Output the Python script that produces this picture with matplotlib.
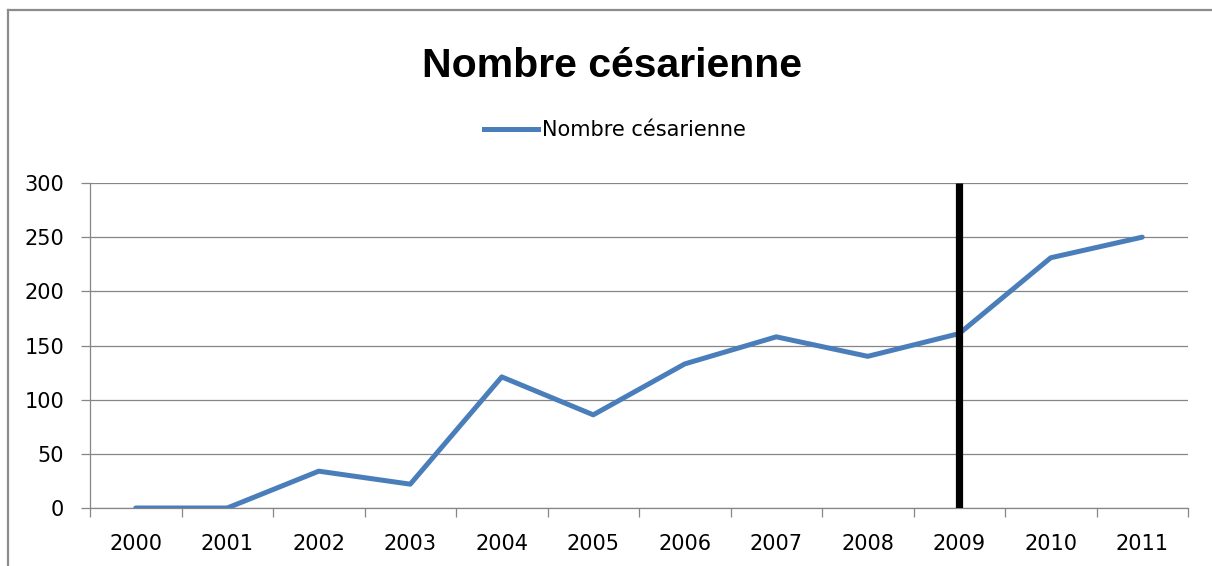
import matplotlib
matplotlib.use("Agg")
import matplotlib.pyplot as plt
from matplotlib import font_manager as fm
from matplotlib.lines import Line2D

years = ["2000", "2001", "2002", "2003", "2004", "2005",
         "2006", "2007", "2008", "2009", "2010", "2011"]
cesariennes = [0, 0, 34, 22, 121, 86, 133, 158, 140, 161, 231, 250]
marker_year = "2009"
title = "Nombre césarienne"
series_name = "Nombre césarienne"
yticks = [0, 50, 100, 150, 200, 250, 300]

names = {f.name for f in fm.fontManager.ttflist}
if "Liberation Sans Narrow" in names:
    title_font, title_size = "Liberation Sans Narrow", 36
else:
    title_font, title_size = "Liberation Sans", 29.5

W, H = 1212, 566
fig = plt.figure(figsize=(W / 100, H / 100), dpi=100)
fig.patch.set_facecolor("white")

ax = fig.add_axes([90 / W, 1 - 508 / H, (1188 - 90) / W, (508 - 183) / H])
x = list(range(len(years)))
ax.plot(x, cesariennes, color="#4A7EBB", lw=3.6, solid_joinstyle="round",
        solid_capstyle="round", label=series_name, zorder=3)
xi = years.index(marker_year)
ax.vlines(xi, 0, 300, color="black", lw=5.2, zorder=4)

ax.set_xlim(-0.5, len(years) - 0.5)
ax.set_ylim(0, 300)
ax.set_yticks(yticks)
ax.set_yticklabels([str(v) for v in yticks])
ax.set_xticks(x)
ax.set_xticklabels(years)
ax.set_xticks([i - 0.5 for i in range(len(years) + 1)], minor=True)
ax.tick_params(axis="x", which="major", length=0, pad=18.5, labelsize=15)
ax.tick_params(axis="x", which="minor", length=6.5, width=0.9, color="#868686", direction="out")
ax.tick_params(axis="y", length=6.5, width=0.9, color="#868686", pad=12, labelsize=15)
for lbl in ax.get_xticklabels() + ax.get_yticklabels():
    lbl.set_family("DejaVu Sans")
    lbl.set_color("black")

ax.grid(axis="y", color="#868686", lw=0.9)
ax.set_axisbelow(True)
for s in ["top", "right"]:
    ax.spines[s].set_visible(False)
for s in ["left", "bottom"]:
    ax.spines[s].set_color("#868686")
    ax.spines[s].set_linewidth(0.9)

fig.text(612 / W, 1 - 77 / H, title, ha="center", va="baseline",
         fontsize=title_size, fontweight="bold", family=title_font, color="black")

handles = [Line2D([], [], color="#4A7EBB", lw=3.6)]
fig.legend(handles, [series_name], loc="center", bbox_to_anchor=(615 / W, 1 - 130 / H),
           frameon=False, handlelength=2.55, handletextpad=0.2,
           prop={"family": "DejaVu Sans", "size": 15})

# chart outer frame (left and top edges visible)
fig.add_artist(Line2D([8 / W, 8 / W], [0, 1 - 10 / H], transform=fig.transFigure,
                      color="#8c8c8c", lw=1.6))
fig.add_artist(Line2D([8 / W, 1], [1 - 10 / H, 1 - 10 / H], transform=fig.transFigure,
                      color="#8c8c8c", lw=1.6))

fig.savefig("out.png", dpi=100)
